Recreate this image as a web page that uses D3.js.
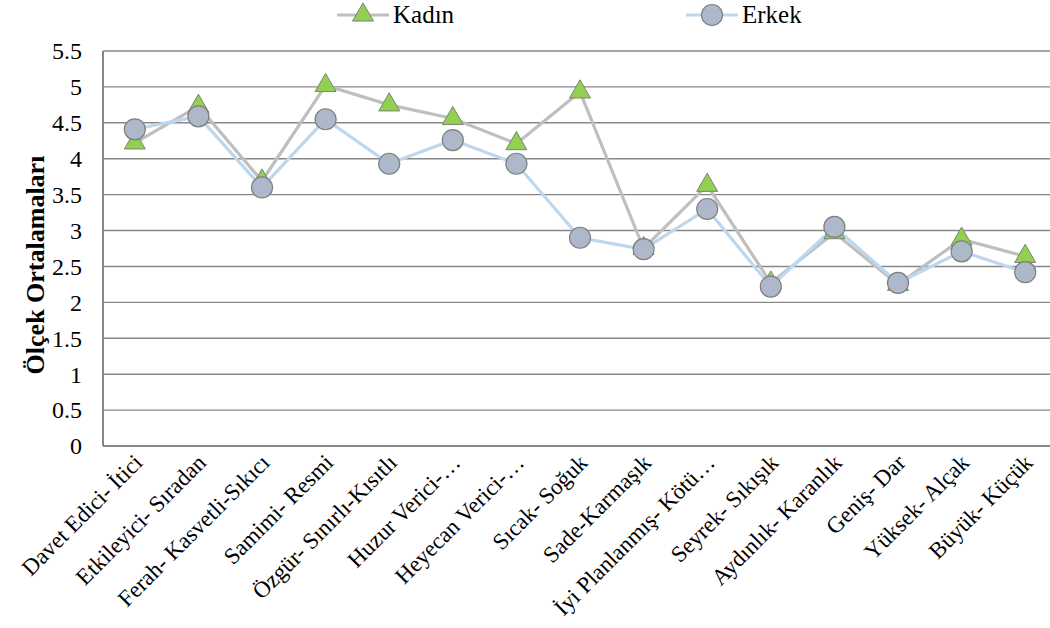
<!DOCTYPE html>
<html><head><meta charset="utf-8">
<script src="https://cdn.jsdelivr.net/npm/d3@7"></script>
</head><body><svg id="c" width="1050" height="628"></svg>
<script>
const categories = ["Davet Edici- İtici","Etkileyici- Sıradan","Ferah- Kasvetli-Sıkıcı","Samimi- Resmi","Özgür- Sınırlı-Kısıtlı","Huzur Verici-…","Heyecan Verici-…","Sıcak- Soğuk","Sade-Karmaşık","İyi Planlanmış- Kötü…","Seyrek- Sıkışık","Aydınlık- Karanlık","Geniş- Dar","Yüksek- Alçak","Büyük- Küçük"];
const kadin = [4.22,4.73,3.69,5.02,4.75,4.56,4.21,4.93,2.75,3.63,2.27,2.97,2.25,2.88,2.64];
const erkek = [4.41,4.59,3.60,4.55,3.93,4.26,3.93,2.90,2.74,3.30,2.22,3.05,2.27,2.71,2.42];
const yTicks = [0,0.5,1,1.5,2,2.5,3,3.5,4,4.5,5,5.5];
const seriesNames = ["Kadın","Erkek"];

document.body.style.margin = "0";
const svg = d3.select("#c").style("display","block");
const FF = '"Liberation Serif"';
const setFont = (sel, size, weight) => sel.style("font-family", FF)
  .attr("font-size", size).attr("font-weight", weight || "normal");
const L = 103, R = 1057, T = 51, B = 446;
const x = d3.scaleBand().domain(categories).range([L, R]);
const y = d3.scaleLinear().domain([0, 5.5]).range([B, T]);
const cx = d => x(d) + x.bandwidth()/2;

// gridlines
svg.append("g").selectAll("line").data(yTicks).join("line")
  .attr("x1", L).attr("x2", 1050).attr("y1", d=>y(d)).attr("y2", d=>y(d))
  .attr("stroke", "#878787").attr("stroke-width", d => d===0 ? 2 : 1.4);
svg.append("line").attr("x1", L).attr("x2", L).attr("y1", T).attr("y2", B)
  .attr("stroke", "#878787").attr("stroke-width", 2);

// y tick labels
setFont(svg.append("g").selectAll("text").data(yTicks).join("text")
  .attr("x", 82).attr("y", d=>y(d)).attr("dy", "0.35em").attr("text-anchor","end")
  .attr("fill","#000"), 24)
  .text(d => d3.format("~g")(d));

// y title
setFont(svg.append("text").attr("transform", `translate(44,265) rotate(-90)`)
  .attr("text-anchor","middle"), 26, "bold").text("Ölçek Ortalamaları");

// x labels
setFont(svg.append("g").selectAll("text").data(categories).join("text")
  .attr("transform", d => `translate(${cx(d)+9},${B+18}) rotate(-45)`)
  .attr("text-anchor","end"), 23)
  .text(d => d);

const line = d3.line().x((d,i)=>cx(categories[i])).y(d=>y(d));
svg.append("path").datum(kadin).attr("d", line).attr("fill","none")
  .attr("stroke","#BFBFBF").attr("stroke-width",3.2);
svg.append("path").datum(erkek).attr("d", line).attr("fill","none")
  .attr("stroke","#BDD7EE").attr("stroke-width",3.2);

const tri = d3.symbol().type(d3.symbolTriangle).size(190);
svg.append("g").selectAll("path").data(kadin).join("path")
  .attr("d", tri).attr("transform",(d,i)=>`translate(${cx(categories[i])},${y(d)})`)
  .attr("fill","#92D050").attr("stroke","#7F7F7F").attr("stroke-width",1);
svg.append("g").selectAll("circle").data(erkek).join("circle")
  .attr("cx",(d,i)=>cx(categories[i])).attr("cy", d=>y(d)).attr("r",10.5)
  .attr("fill","#ADB9CA").attr("stroke","#7F7F7F").attr("stroke-width",1.2);

// legend
const lg = svg.append("g");
const legend = [{name:seriesNames[0], x:337, color:"#BFBFBF"},{name:seriesNames[1], x:686, color:"#BDD7EE"}];
legend.forEach((l,i)=>{
  lg.append("line").attr("x1",l.x).attr("x2",l.x+52).attr("y1",15).attr("y2",15)
    .attr("stroke",l.color).attr("stroke-width",3.2);
  if(i===0) lg.append("path").attr("d",tri).attr("transform",`translate(${l.x+26},15)`)
    .attr("fill","#92D050").attr("stroke","#7F7F7F");
  else lg.append("circle").attr("cx",l.x+26).attr("cy",15).attr("r",10.5)
    .attr("fill","#ADB9CA").attr("stroke","#7F7F7F").attr("stroke-width",1.2);
  setFont(lg.append("text").attr("x",l.x+56).attr("y",14).attr("dy","0.35em"), 25)
    .text(l.name);
});
</script></body></html>
